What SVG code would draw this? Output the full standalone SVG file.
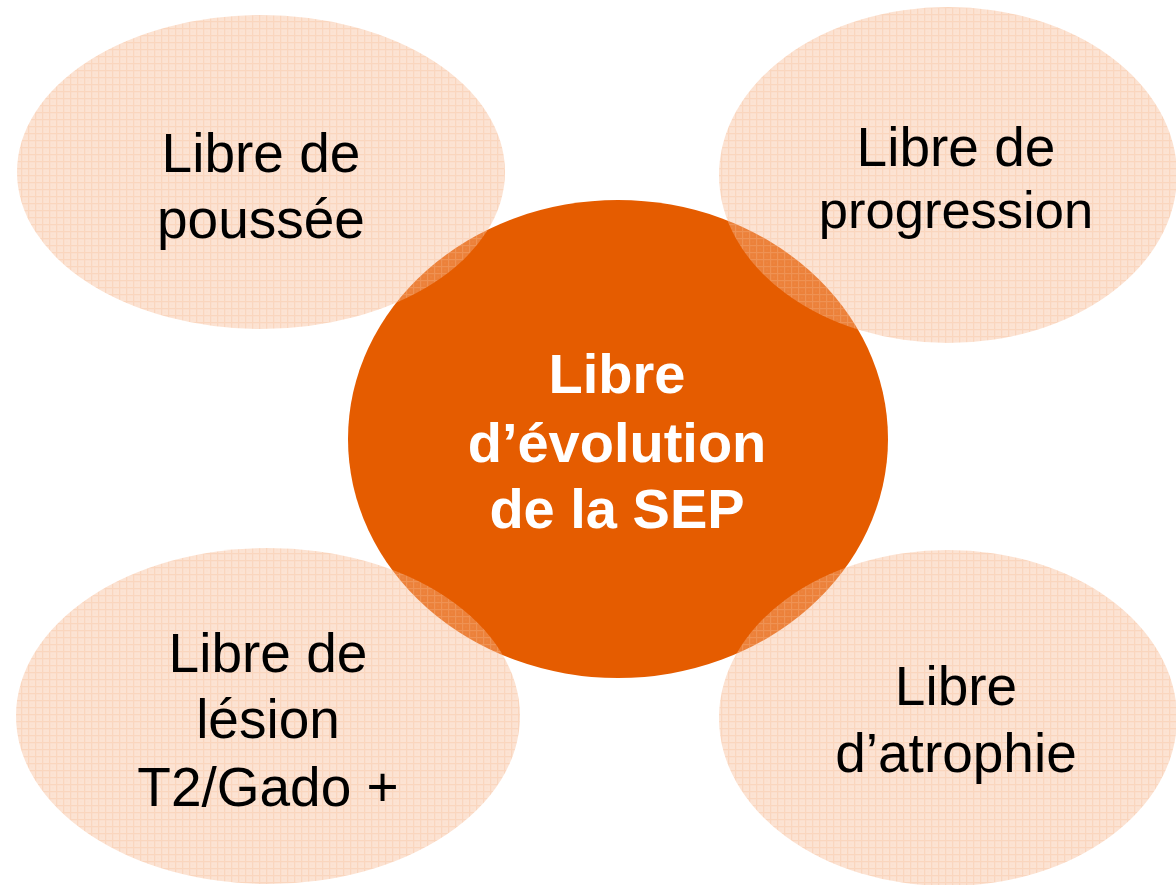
<svg xmlns="http://www.w3.org/2000/svg" width="1176" height="885" viewBox="0 0 1176 885">
  <style>
    .outer { fill: url(#grid); }
    .lbl { font-family: "Liberation Sans", Arial, sans-serif; font-size: 55px; fill: #000; text-anchor: middle; }
    .ctr { font-family: "Liberation Sans", Arial, sans-serif; font-size: 56px; font-weight: bold; fill: #fff; text-anchor: middle; }
  </style>
  <defs>
    <pattern id="grid" patternUnits="userSpaceOnUse" width="7" height="7">
      <rect width="7" height="7" fill="#F8B890" fill-opacity="0.4"/>
      <rect x="0" y="0" width="7" height="1.2" fill="#F8B890" fill-opacity="0.3"/>
      <rect x="0" y="1.2" width="1.2" height="5.8" fill="#F8B890" fill-opacity="0.3"/>
      <rect x="3.5" y="3.5" width="1" height="1" fill="#F8B890" fill-opacity="0.2"/>
    </pattern>
  </defs>
  <rect width="1176" height="885" fill="#fff"/>
  <g id="center">
    <ellipse cx="618" cy="439" rx="270" ry="239" fill="#E55C00"/>
  </g>
  <g id="node-poussee">
    <ellipse class="outer" cx="261" cy="172" rx="244" ry="157"/>
    <text class="lbl" x="261" y="172">Libre de</text>
    <text class="lbl" x="261" y="238">poussée</text>
  </g>
  <g id="node-progression">
    <ellipse class="outer" cx="948" cy="175" rx="229" ry="168"/>
    <text class="lbl" x="956" y="166">Libre de</text>
    <text class="lbl" x="956" y="228" style="font-size:52.5px">progression</text>
  </g>
  <g id="node-lesion">
    <ellipse class="outer" cx="268" cy="716" rx="252" ry="168"/>
    <text class="lbl" x="268" y="672">Libre de</text>
    <text class="lbl" x="268" y="738">lésion</text>
    <text class="lbl" x="268" y="806">T2/Gado +</text>
  </g>
  <g id="node-atrophie">
    <ellipse class="outer" cx="948" cy="718" rx="229" ry="168"/>
    <text class="lbl" x="956" y="705">Libre</text>
    <text class="lbl" x="956" y="772">d’atrophie</text>
  </g>
  <g id="center-label">
    <text class="ctr" x="617" y="393">Libre</text>
    <text class="ctr" x="617" y="462">d’évolution</text>
    <text class="ctr" x="617" y="528">de la SEP</text>
  </g>
</svg>
